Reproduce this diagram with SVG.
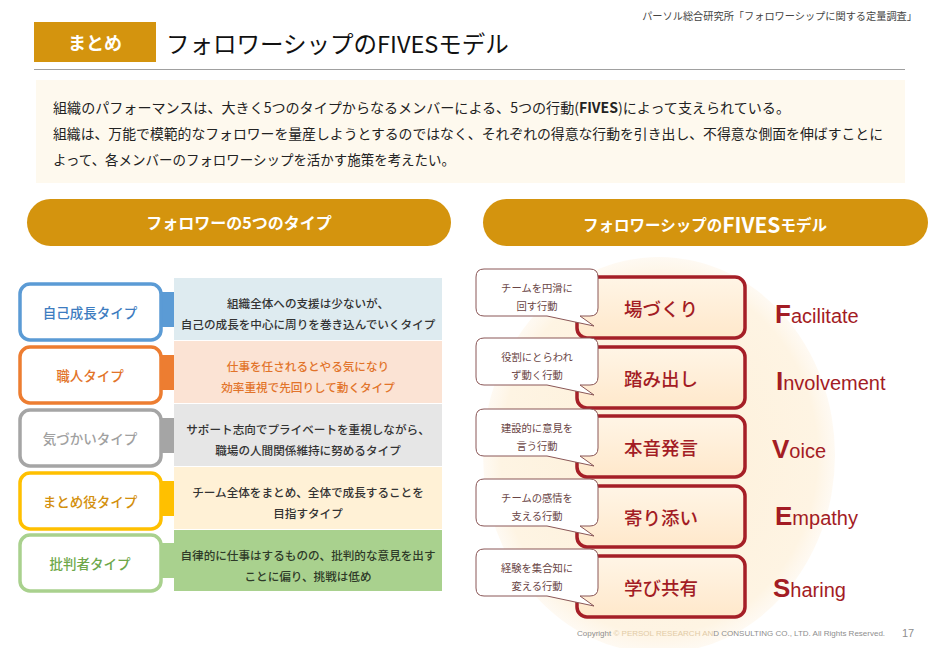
<svg xmlns="http://www.w3.org/2000/svg" xmlns:xlink="http://www.w3.org/1999/xlink" width="941" height="648" viewBox="0 0 941 648">
<defs>
<style>
.jp{font-family:"Noto Sans CJK JP","Noto Sans",sans-serif;}
.lat{font-family:"Liberation Sans",Arial,sans-serif;}
.pill{fill:#D4940E;}
.lbl{fill:#FFFFFF;stroke-width:3.5;}
.lt{font-size:13.5px;text-anchor:middle;dominant-baseline:central;font-weight:500;}
.dt{font-size:11.6px;text-anchor:middle;dominant-baseline:central;fill:#333333;font-weight:500;}
.rb{fill:url(#rbg);stroke:#A51F27;stroke-width:3.5;}
.rt{font-size:18.5px;text-anchor:middle;dominant-baseline:central;fill:#A31C24;font-weight:500;}
.co{fill:#FFFFFF;stroke:#8A5656;stroke-width:1;}
.ct{font-size:10.3px;text-anchor:middle;dominant-baseline:central;fill:#6A4545;}
.fv{fill:#A31C24;font-size:20px;}
.fc{font-weight:bold;font-size:26px;}
.sm{font-size:14px;fill:#222222;dominant-baseline:central;}
</style>
<linearGradient id="rbg" x1="0" y1="0" x2="0" y2="1">
<stop offset="0" stop-color="#FFF5E6"/>
<stop offset="1" stop-color="#FFE8CB"/>
</linearGradient>
<radialGradient id="bg" cx="0.5" cy="0.5" r="0.5">
<stop offset="0" stop-color="#FDEFD8"/>
<stop offset="0.9" stop-color="#FEF4E3"/>
<stop offset="1" stop-color="#FEF6EA" stop-opacity="0.6"/>
</radialGradient>
<path id="callout" class="co" d="M8,0 H114 Q122,0 122,8 V39 Q122,47 114,47 H104 L118,57 L71,47 H8 Q0,47 0,39 V8 Q0,0 8,0 Z"/>
</defs>
<rect x="0" y="0" width="941" height="648" fill="#FFFFFF"/>

<!-- header -->
<g id="header">
<text class="jp" x="917" y="15" font-size="10.2" fill="#444444" text-anchor="end" dominant-baseline="central">パーソル総合研究所「フォロワーシップに関する定量調査」</text>
<rect x="34" y="22" width="122" height="40" fill="#D4940E"/>
<text class="jp" x="95" y="42" font-size="18" font-weight="bold" fill="#FFFFFF" text-anchor="middle" dominant-baseline="central">まとめ</text>
<text class="jp" x="166" y="43" font-size="23.5" fill="#111111" dominant-baseline="central">フォロワーシップのFIVESモデル</text>
<line x1="34" y1="69.5" x2="905" y2="69.5" stroke="#A0A0A0" stroke-width="1.2"/>
</g>

<!-- summary -->
<g id="summary">
<rect x="36" y="80" width="869" height="103" fill="#FEF9EE"/>
<text class="jp sm" x="53" y="107" textLength="737" lengthAdjust="spacingAndGlyphs">組織のパフォーマンスは、大きく5つのタイプからなるメンバーによる、5つの行動(<tspan font-weight="bold">FIVES</tspan>)によって支えられている。</text>
<text class="jp sm" x="53" y="133" textLength="830" lengthAdjust="spacingAndGlyphs">組織は、万能で模範的なフォロワーを量産しようとするのではなく、それぞれの得意な行動を引き出し、不得意な側面を伸ばすことに</text>
<text class="jp sm" x="53" y="159" textLength="402" lengthAdjust="spacingAndGlyphs">よって、各メンバーのフォロワーシップを活かす施策を考えたい。</text>
</g>

<!-- section pills -->
<g id="pill-types">
<rect class="pill" x="27" y="199" width="424" height="47" rx="23.5"/>
<text class="jp" x="239" y="222" font-size="16" font-weight="bold" fill="#FFFFFF" text-anchor="middle" dominant-baseline="central">フォロワーの5つのタイプ</text>
</g>
<g id="pill-fives">
<rect class="pill" x="483" y="199" width="445" height="47" rx="23.5"/>
<text class="jp" x="705" y="224" font-size="15.5" font-weight="bold" fill="#FFFFFF" text-anchor="middle" dominant-baseline="central">フォロワーシップの<tspan font-size="21">FIVES</tspan>モデル</text>
</g>

<!-- background ellipse -->
<ellipse cx="659" cy="455" rx="176" ry="198" fill="url(#bg)"/>

<!-- connectors (tabs) -->
<g id="connectors">
<rect x="161" y="292" width="13" height="35" fill="#5B9BD5"/>
<rect x="161" y="355" width="13" height="35" fill="#ED7D31"/>
<rect x="161" y="418" width="13" height="35" fill="#A5A5A5"/>
<rect x="161" y="481" width="13" height="35" fill="#FFC000"/>
<rect x="161" y="543" width="13" height="35" fill="#A9D18E"/>
</g>

<!-- type rows -->
<g id="type-jikoseicho">
<rect x="20" y="284" width="141" height="56" rx="10" class="lbl" stroke="#5B9BD5"/>
<text class="jp lt" x="90" y="312" fill="#3D7CC0">自己成長タイプ</text>
<rect x="174" y="278" width="268" height="62" fill="#DEEBF0"/>
<text class="jp dt" x="308" y="302.5">組織全体への支援は少ないが、</text>
<text class="jp dt" x="308" y="323.5">自己の成長を中心に周りを巻き込んでいくタイプ</text>
</g>
<g id="type-shokunin">
<rect x="20" y="347" width="141" height="56" rx="10" class="lbl" stroke="#ED7D31"/>
<text class="jp lt" x="90" y="375" fill="#E2742A">職人タイプ</text>
<rect x="174" y="341" width="268" height="62" fill="#FBE3D4"/>
<text class="jp dt" x="308" y="365.5" style="fill:#E2742A">仕事を任されるとやる気になり</text>
<text class="jp dt" x="308" y="386.5" style="fill:#E2742A">効率重視で先回りして動くタイプ</text>
</g>
<g id="type-kizukai">
<rect x="20" y="410" width="141" height="56" rx="10" class="lbl" stroke="#A5A5A5"/>
<text class="jp lt" x="90" y="438" fill="#A0A0A0">気づかいタイプ</text>
<rect x="174" y="404" width="268" height="62" fill="#E6E6E6"/>
<text class="jp dt" x="308" y="428.5">サポート志向でプライベートを重視しながら、</text>
<text class="jp dt" x="308" y="449.5">職場の人間関係維持に努めるタイプ</text>
</g>
<g id="type-matomeyaku">
<rect x="20" y="473" width="141" height="56" rx="10" class="lbl" stroke="#FFC000"/>
<text class="jp lt" x="90" y="501" fill="#D38F0C">まとめ役タイプ</text>
<rect x="174" y="467" width="268" height="62" fill="#FFF1D6"/>
<text class="jp dt" x="308" y="491.5">チーム全体をまとめ、全体で成長することを</text>
<text class="jp dt" x="308" y="512.5">目指すタイプ</text>
</g>
<g id="type-hihansha">
<rect x="20" y="535" width="141" height="56" rx="10" class="lbl" stroke="#A9D18E"/>
<text class="jp lt" x="90" y="563" fill="#6EA84A">批判者タイプ</text>
<rect x="174" y="530" width="268" height="61" fill="#A9D18E"/>
<text class="jp dt" x="308" y="554.5" style="fill:#2E3A28">自律的に仕事はするものの、批判的な意見を出す</text>
<text class="jp dt" x="308" y="575.5" style="fill:#2E3A28">ことに偏り、挑戦は低め</text>
</g>

<!-- FIVES rows -->
<g id="fives-facilitate">
<rect class="rb" x="577" y="277" width="168" height="61" rx="10"/>
<text class="jp rt" x="661" y="308">場づくり</text>
<use xlink:href="#callout" href="#callout" x="476" y="269"/>
<text class="jp ct" x="537" y="287">チームを円滑に</text>
<text class="jp ct" x="537" y="305">回す行動</text>
<text class="lat fv" x="775" y="323"><tspan class="fc">F</tspan>acilitate</text>
</g>
<g id="fives-involvement">
<rect class="rb" x="577" y="347" width="168" height="61" rx="10"/>
<text class="jp rt" x="661" y="378">踏み出し</text>
<use xlink:href="#callout" href="#callout" x="476" y="338"/>
<text class="jp ct" x="537" y="356">役割にとらわれ</text>
<text class="jp ct" x="537" y="374">ず動く行動</text>
<text class="lat fv" x="776" y="390"><tspan class="fc">I</tspan>nvolvement</text>
</g>
<g id="fives-voice">
<rect class="rb" x="577" y="416" width="168" height="61" rx="10"/>
<text class="jp rt" x="661" y="447">本音発言</text>
<use xlink:href="#callout" href="#callout" x="476" y="409"/>
<text class="jp ct" x="537" y="427">建設的に意見を</text>
<text class="jp ct" x="537" y="445">言う行動</text>
<text class="lat fv" x="772" y="458"><tspan class="fc">V</tspan>oice</text>
</g>
<g id="fives-empathy">
<rect class="rb" x="577" y="486" width="168" height="61" rx="10"/>
<text class="jp rt" x="661" y="517">寄り添い</text>
<use xlink:href="#callout" href="#callout" x="476" y="479"/>
<text class="jp ct" x="537" y="497">チームの感情を</text>
<text class="jp ct" x="537" y="515">支える行動</text>
<text class="lat fv" x="775" y="525"><tspan class="fc">E</tspan>mpathy</text>
</g>
<g id="fives-sharing">
<rect class="rb" x="577" y="556" width="168" height="61" rx="10"/>
<text class="jp rt" x="661" y="587">学び共有</text>
<use xlink:href="#callout" href="#callout" x="476" y="549"/>
<text class="jp ct" x="537" y="567">経験を集合知に</text>
<text class="jp ct" x="537" y="585">変える行動</text>
<text class="lat fv" x="773" y="597"><tspan class="fc">S</tspan>haring</text>
</g>

<!-- footer -->
<g id="footer">
<text class="lat" x="577" y="636" font-size="8" fill="#8E8E8E">Copyright <tspan fill="#E2CBA6">© PERSOL RESEARCH AN</tspan>D CONSULTING CO., LTD. All Rights Reserved.</text>
<text class="lat" x="902" y="637" font-size="11" fill="#8E8E8E">17</text>
</g>
</svg>
